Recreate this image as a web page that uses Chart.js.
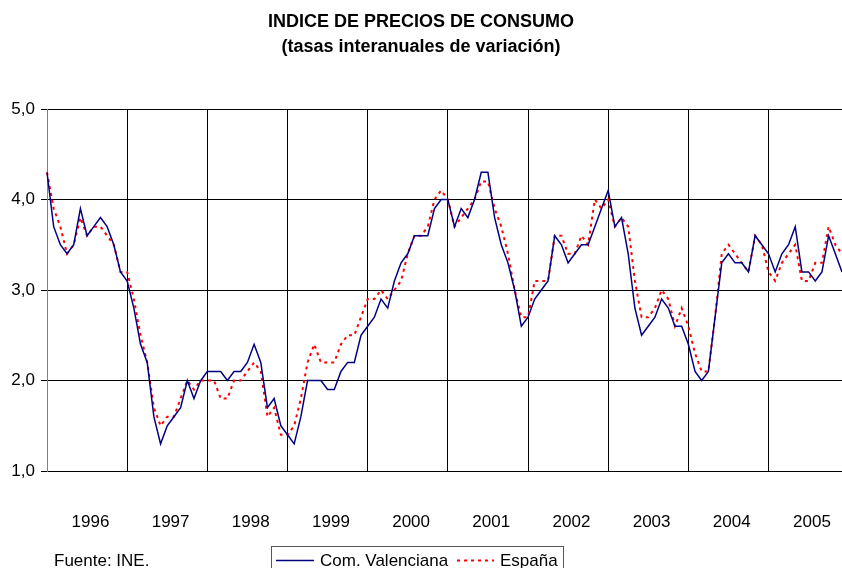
<!DOCTYPE html>
<html>
<head>
<meta charset="utf-8">
<script src="https://cdn.jsdelivr.net/npm/chart.js@4/dist/chart.umd.min.js"></script>
<style>
  html, body { margin: 0; padding: 0; background: #fff; overflow: hidden; }
  #wrap { width: 842px; height: 568px; }
</style>
</head>
<body>
<div id="wrap"><canvas id="ipc" width="842" height="568"></canvas></div>
<script>
// year bands shown under the axis
const years = ["1996", "1997", "1998", "1999", "2000", "2001", "2002", "2003", "2004", "2005"];
const monthNames = ["ene", "feb", "mar", "abr", "may", "jun", "jul", "ago", "sep", "oct", "nov", "dic"];

// dic-95 .. nov-05, one label per month
const months = ["dic-95"];
for (const y of years) {
  for (const m of monthNames) {
    if (months.length < 120) months.push(m + "-" + y.slice(2));
  }
}

// tasas interanuales (%)
const valencia = [
  4.3,
  3.7, 3.5, 3.4, 3.5, 3.9, 3.6, 3.7, 3.8, 3.7, 3.5, 3.2, 3.1,
  2.8, 2.4, 2.2, 1.6, 1.3, 1.5, 1.6, 1.7, 2.0, 1.8, 2.0, 2.1,
  2.1, 2.1, 2.0, 2.1, 2.1, 2.2, 2.4, 2.2, 1.7, 1.8, 1.5, 1.4,
  1.3, 1.6, 2.0, 2.0, 2.0, 1.9, 1.9, 2.1, 2.2, 2.2, 2.5, 2.6,
  2.7, 2.9, 2.8, 3.1, 3.3, 3.4, 3.6, 3.6, 3.6, 3.9, 4.0, 4.0,
  3.7, 3.9, 3.8, 4.0, 4.3, 4.3, 3.8, 3.5, 3.3, 3.0, 2.6, 2.7,
  2.9, 3.0, 3.1, 3.6, 3.5, 3.3, 3.4, 3.5, 3.5, 3.7, 3.9, 4.1,
  3.7, 3.8, 3.4, 2.8, 2.5, 2.6, 2.7, 2.9, 2.8, 2.6, 2.6, 2.4,
  2.1, 2.0, 2.1, 2.7, 3.3, 3.4, 3.3, 3.3, 3.2, 3.6, 3.5, 3.4,
  3.2, 3.4, 3.5, 3.7, 3.2, 3.2, 3.1, 3.2, 3.6, 3.4, 3.2
];
const espana = [
  4.3,
  3.9, 3.7, 3.4, 3.5, 3.8, 3.6, 3.7, 3.7, 3.6, 3.5, 3.2, 3.2,
  2.9, 2.5, 2.2, 1.7, 1.5, 1.6, 1.6, 1.8, 2.0, 1.9, 2.0, 2.0,
  2.0, 1.8, 1.8, 2.0, 2.0, 2.1, 2.2, 2.1, 1.6, 1.7, 1.4, 1.4,
  1.5, 1.8, 2.2, 2.4, 2.2, 2.2, 2.2, 2.4, 2.5, 2.5, 2.7, 2.9,
  2.9, 3.0, 2.9, 3.0, 3.1, 3.4, 3.6, 3.6, 3.7, 4.0, 4.1, 4.0,
  3.7, 3.8, 3.9, 4.0, 4.2, 4.2, 3.9, 3.7, 3.4, 3.0, 2.7, 2.7,
  3.1, 3.1, 3.1, 3.6, 3.6, 3.4, 3.4, 3.6, 3.5, 4.0, 3.9, 4.0,
  3.7, 3.8, 3.7, 3.1, 2.7, 2.7, 2.8, 3.0, 2.9, 2.6, 2.8, 2.6,
  2.3, 2.1, 2.1, 2.7, 3.4, 3.5, 3.4, 3.3, 3.2, 3.6, 3.5, 3.2,
  3.1, 3.3, 3.4, 3.5, 3.1, 3.1, 3.3, 3.3, 3.7, 3.5, 3.4
];

const FONT = "'Liberation Sans', Arial, sans-serif";
Chart.defaults.font.family = FONT;
Chart.defaults.color = "#000";

// legend box + source note, drawn under the plot
const footer = {
  id: "footer",
  afterDraw(chart) {
    const ctx = chart.ctx;
    const ds = chart.data.datasets;
    ctx.save();
    ctx.font = "17px " + FONT;
    ctx.textBaseline = "middle";
    ctx.fillStyle = "#000";
    ctx.fillText("Fuente: INE.", 54, 561);

    ctx.strokeStyle = "#555";
    ctx.lineWidth = 1;
    ctx.strokeRect(271.5, 546.5, 292, 30);

    ctx.beginPath();
    ctx.strokeStyle = ds[0].borderColor;
    ctx.lineWidth = ds[0].borderWidth;
    ctx.moveTo(276, 560.5);
    ctx.lineTo(314, 560.5);
    ctx.stroke();
    ctx.fillText(ds[0].label, 320, 561);

    ctx.beginPath();
    ctx.strokeStyle = ds[1].borderColor;
    ctx.lineWidth = ds[1].borderWidth;
    ctx.setLineDash(ds[1].borderDash);
    ctx.moveTo(457, 560.5);
    ctx.lineTo(494, 560.5);
    ctx.stroke();
    ctx.setLineDash([]);
    ctx.fillText(ds[1].label, 500, 561);
    ctx.restore();
  }
};

new Chart(document.getElementById("ipc"), {
  type: "line",
  data: {
    labels: months,
    datasets: [
      {
        label: "Com. Valenciana",
        data: valencia,
        borderColor: "#000080",
        borderWidth: 1.5,
        pointRadius: 0,
        tension: 0,
        fill: false
      },
      {
        label: "España",
        data: espana,
        borderColor: "#ff0000",
        borderWidth: 2,
        borderDash: [3, 4],
        pointRadius: 0,
        tension: 0,
        fill: false
      }
    ]
  },
  options: {
    responsive: false,
    animation: false,
    layout: { padding: { top: 0, left: 0, right: 0, bottom: 0 } },
    plugins: {
      legend: { display: false },
      tooltip: { enabled: false },
      title: {
        display: true,
        text: ["INDICE DE PRECIOS DE CONSUMO", "(tasas interanuales de variación)"],
        font: { size: 18, weight: "bold", lineHeight: 25 / 18 },
        color: "#000",
        padding: { top: 10, bottom: 49 }
      }
    },
    scales: {
      x: {
        type: "category",
        offset: false,
        position: "bottom",
        afterBuildTicks(scale) {
          scale.ticks = years.slice(1).map((_, i) => ({ value: 12 * (i + 1) }));
        },
        afterFit(scale) {
          scale.height = 0;
          scale.paddingLeft = 0;
          scale.paddingRight = 0;
        },
        ticks: { display: false, autoSkip: false },
        grid: { color: "#000", lineWidth: 1, drawTicks: false },
        border: { display: false }
      },
      years: {
        type: "linear",
        position: "bottom",
        min: 0,
        max: months.length - 1,
        afterBuildTicks(scale) {
          scale.ticks = years.map((_, i) => ({ value: 6.5 + 12 * i }));
        },
        afterFit(scale) {
          scale.height = 97;
          scale.paddingLeft = 0;
          scale.paddingRight = 0;
        },
        ticks: {
          autoSkip: false,
          maxRotation: 0,
          padding: 41,
          font: { size: 17 },
          callback: (v, i) => years[i]
        },
        grid: { display: false, drawTicks: false },
        border: { display: false }
      },
      y: {
        min: 1,
        max: 5,
        afterFit(scale) { scale.width = 47; },
        ticks: {
          stepSize: 1,
          padding: 6,
          font: { size: 17 },
          callback: (v) => v.toFixed(1).replace(".", ",")
        },
        grid: { color: "#000", lineWidth: 1, tickLength: 6, drawTicks: true },
        border: { display: true, color: "#808080", width: 1 }
      }
    }
  },
  plugins: [footer]
});
</script>
</body>
</html>
